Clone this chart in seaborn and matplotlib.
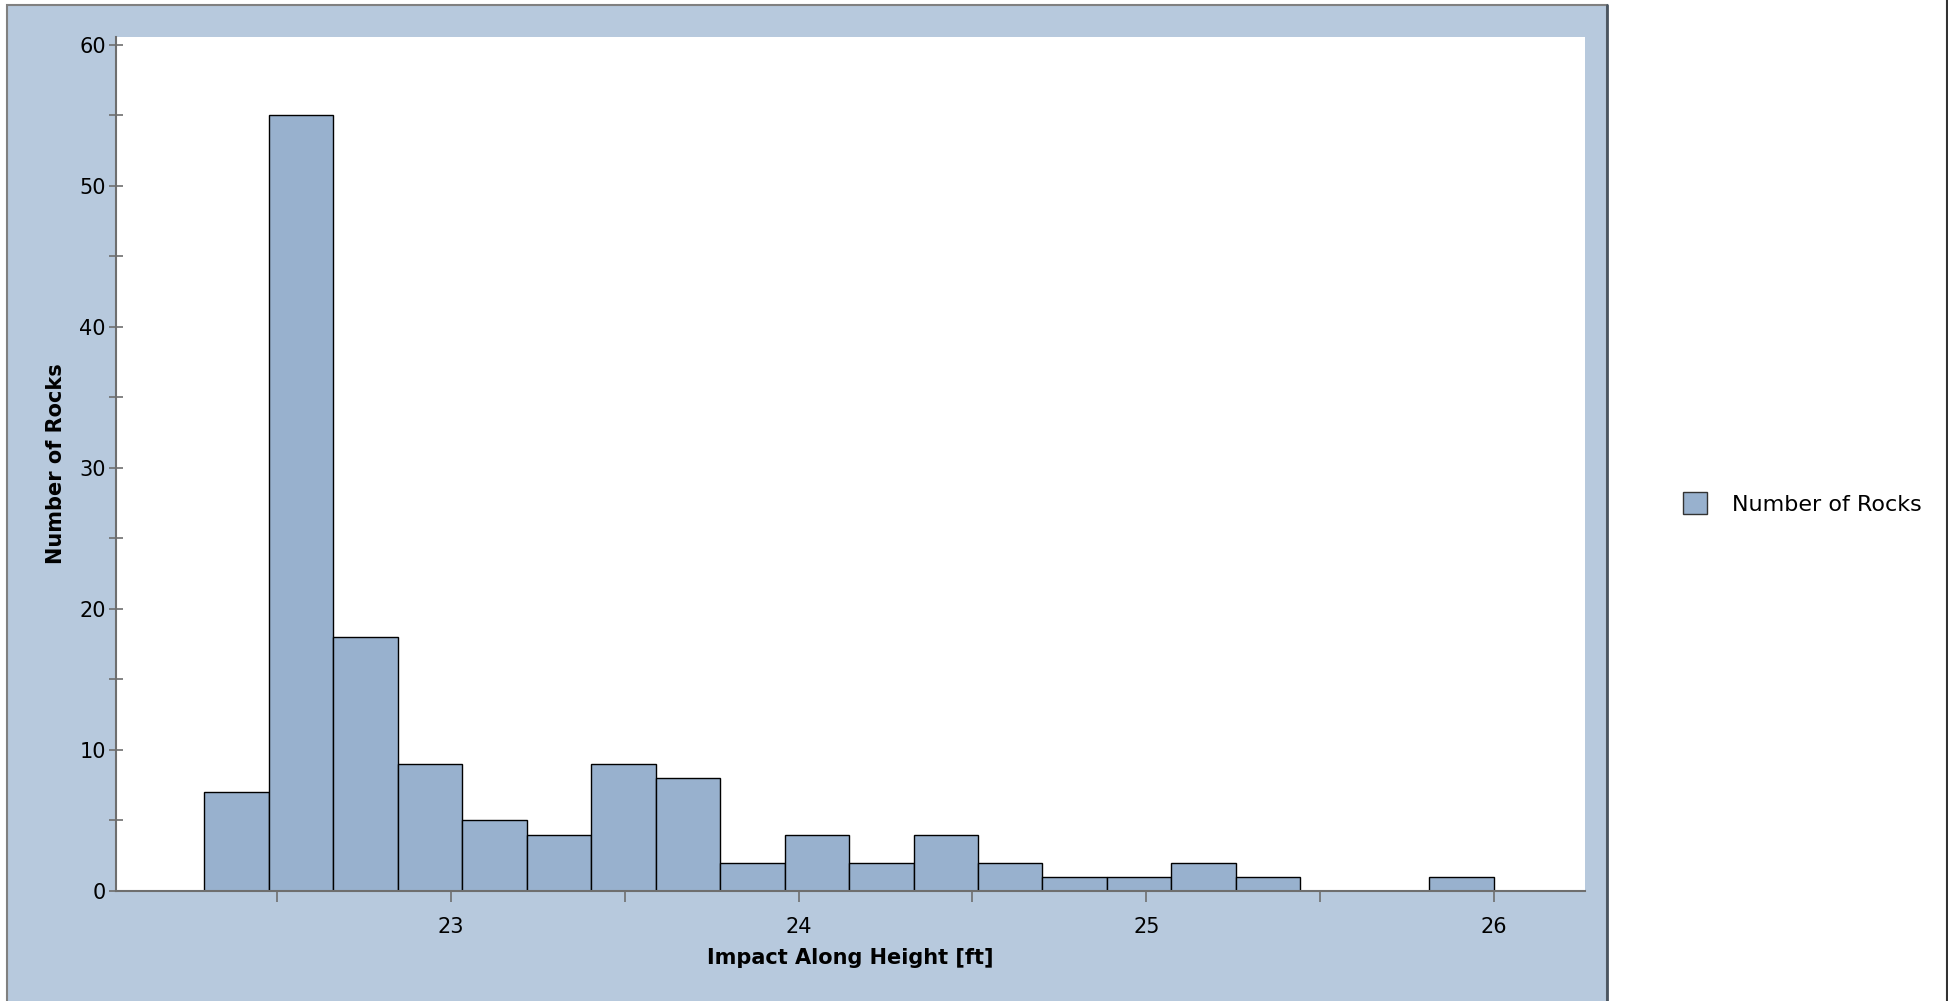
import numpy as np
import pandas as pd
import matplotlib
matplotlib.use("Agg")
import matplotlib.pyplot as plt
from matplotlib.patches import Rectangle, Patch
from matplotlib.lines import Line2D
from matplotlib.ticker import MultipleLocator
import seaborn as sns

# histogram: 20 equal bins between these edges
bin_start = 22.29
bin_end = 26.0
n_bins = 20
rock_counts = [7, 55, 18, 9, 5, 4, 9, 8, 2, 4, 2, 4, 2, 1, 1, 2, 1, 0, 0, 1]

x_label = "Impact Along Height [ft]"
y_label = "Number of Rocks"
legend_label = "Number of Rocks"

BAR = "#98b1ce"
FRAME = "#b7c9dd"
AXIS = "#6e6e6e"


def main():
    sns.set_style("white")
    plt.rcParams["font.family"] = ["DejaVu Sans"]
    plt.rcParams["text.color"] = "black"
    plt.rcParams["axes.labelcolor"] = "black"
    plt.rcParams["xtick.labelcolor"] = "black"
    plt.rcParams["ytick.labelcolor"] = "black"

    edges = np.linspace(bin_start, bin_end, n_bins + 1)
    centers = (edges[:-1] + edges[1:]) / 2
    df = pd.DataFrame({"height": centers, "count": rock_counts})

    fig = plt.figure(figsize=(19.48, 10.01), dpi=100)
    fig.patch.set_facecolor("white")

    # blue panel behind the plot
    fig.patches.append(Rectangle((7 / 1948, -0.01), 1600 / 1948, 1.01 - 5 / 1001,
                                 transform=fig.transFigure, facecolor=FRAME,
                                 edgecolor="#808080", linewidth=1.5, zorder=-5))
    fig.add_artist(Line2D([1607 / 1948, 1607 / 1948], [0, 1 - 5 / 1001],
                          transform=fig.transFigure, color="#4a5560", linewidth=2))
    fig.add_artist(Line2D([1946.5 / 1948, 1946.5 / 1948], [0, 1],
                          transform=fig.transFigure, color="#333333", linewidth=1.5))

    ax = fig.add_axes([115.5 / 1948, 110 / 1001, (1585 - 115.5) / 1948, (891 - 37) / 1001])
    ax.set_facecolor("white")

    sns.histplot(data=df, x="height", weights="count", bins=list(edges), ax=ax,
                 color=BAR, alpha=1, edgecolor="black", linewidth=1.0)

    ax.set_xlim(22.035, 26.262)
    ax.set_ylim(0, 60.55)
    ax.xaxis.set_major_locator(MultipleLocator(1))
    ax.xaxis.set_minor_locator(MultipleLocator(0.5))
    ax.yaxis.set_major_locator(MultipleLocator(10))
    ax.yaxis.set_minor_locator(MultipleLocator(5))

    for s in ["top", "right"]:
        ax.spines[s].set_visible(False)
    for s in ["left", "bottom"]:
        ax.spines[s].set_color(AXIS)
        ax.spines[s].set_linewidth(1.5)

    ax.tick_params(axis="y", which="both", direction="inout", length=10, width=1.2,
                   color=AXIS, labelsize=15, pad=2, left=True)
    ax.tick_params(axis="x", which="both", direction="out", length=8, width=1.2,
                   color=AXIS, labelsize=15, pad=11, bottom=True)

    ax.set_xlabel(x_label, fontsize=15, fontweight="bold", labelpad=8, color="black")
    ax.set_ylabel(y_label, fontsize=15, fontweight="bold", labelpad=9.5, color="black")

    handle = Patch(facecolor=BAR, edgecolor="#333333", linewidth=1.0)
    fig.legend([handle], [legend_label], loc="center left",
               bbox_to_anchor=(1663 / 1948, 0.497), frameon=False, fontsize=16,
               handlelength=1.1, handleheight=1.1, handletextpad=1.1, labelcolor="black")

    fig.savefig("out.png", dpi=100, facecolor=fig.get_facecolor())


if __name__ == "__main__":
    main()
